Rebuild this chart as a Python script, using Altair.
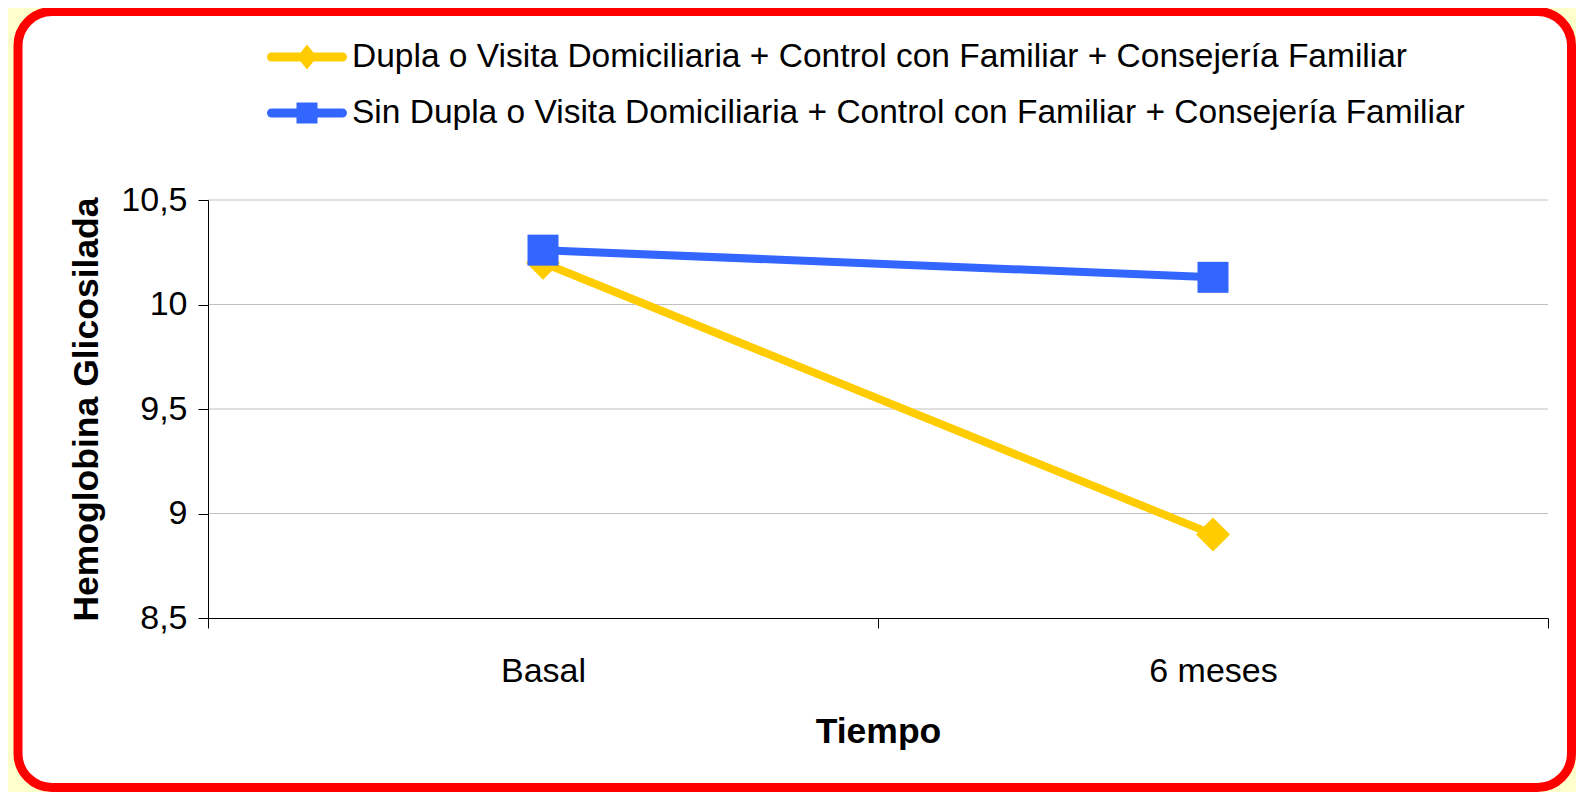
import altair as alt
import pandas as pd

# ---- data ----
tiempos = ["Basal", "6 meses"]
serie_dupla = "Dupla o Visita Domiciliaria + Control con Familiar + Consejería Familiar"
serie_sin = "Sin Dupla o Visita Domiciliaria + Control con Familiar + Consejería Familiar"
series = [serie_dupla, serie_sin]
valores_dupla = [10.20, 8.90]
valores_sin = [10.26, 10.13]
y_ticks = [8.5, 9.0, 9.5, 10.0, 10.5]
grid_values = [9.0, 9.5, 10.0, 10.5]
colores = ["#FFCC00", "#3366FF"]

rows = []
for t, v in zip(tiempos, valores_dupla):
    rows.append({"Tiempo": t, "Serie": serie_dupla, "HbA1c": v})
for t, v in zip(tiempos, valores_sin):
    rows.append({"Tiempo": t, "Serie": serie_sin, "HbA1c": v})
df = pd.DataFrame(rows)

W, H = 1340, 418
FONT = "Liberation Sans"

# legend symbols: line with marker (custom paths, unit r = sqrt(size)/2)
line_part = ("M-0.775,-0.225 L2.775,-0.225 A0.225,0.225 0 0 1 2.775,0.225 "
             "L-0.775,0.225 A0.225,0.225 0 0 1 -0.775,-0.225 Z ")
path_dupla = line_part + "M1,-0.625 L1.5,0 L1,0.625 L0.5,0 Z"
path_sin = line_part + "M0.475,-0.525 L1.525,-0.525 L1.525,0.525 L0.475,0.525 Z"

x_enc = alt.X(
    "Tiempo:N", sort=tiempos,
    scale=alt.Scale(type="band", paddingInner=0, paddingOuter=0),
    axis=alt.Axis(title="Tiempo", tickBand="extent", labelAngle=0,
                  labelPadding=26, titlePadding=26, grid=False, zindex=1),
)
y_enc = alt.Y(
    "HbA1c:Q",
    scale=alt.Scale(domain=[8.5, 10.5], nice=False, zero=False),
    axis=alt.Axis(title="Hemoglobina Glicosilada", values=y_ticks,
                  labelExpr="replace(toString(datum.value), '.', ',')",
                  labelPadding=11, titlePadding=16, grid=False, zindex=1),
)

frame = alt.Chart(pd.DataFrame({"k": [0]})).mark_rect(
    fill="white", stroke="#FF0000", strokeWidth=9, cornerRadius=34
).encode(
    x=alt.value(-190), x2=alt.value(1363.5),
    y=alt.value(-188.5), y2=alt.value(587.5),
)

grid = alt.Chart(pd.DataFrame({"HbA1c": grid_values})).mark_rule(
    color="#C0C0C0", strokeWidth=1
).encode(y=y_enc, x=alt.value(0), x2=alt.value(W))

leg_props = dict(
    title=None, orient="none", legendX=59, legendY=-163,
    symbolSize=1600, symbolStrokeWidth=0, symbolOpacity=1,
    labelFont=FONT, labelFontSize=33.5,
    labelColor="black", labelOffset=45, rowPadding=19, padding=0,
    labelLimit=3000, direction="vertical",
)
legend_layer = alt.Chart(df).transform_filter(
    alt.FieldEqualPredicate(field="Serie", equal="__ninguna__")
).mark_point(filled=True, size=1600).encode(
    x=x_enc, y=y_enc,
    color=alt.Color("Serie:N", scale=alt.Scale(domain=series, range=colores),
                    legend=alt.Legend(**leg_props)),
    shape=alt.Shape("Serie:N", scale=alt.Scale(domain=series, range=[path_dupla, path_sin]),
                    legend=alt.Legend(**leg_props)),
)

def line_layer(serie, color):
    return alt.Chart(df).transform_filter(
        alt.FieldEqualPredicate(field="Serie", equal=serie)
    ).mark_line(color=color, strokeWidth=8).encode(x=x_enc, y=y_enc)

def marker_layer(serie, color, shape, size):
    return alt.Chart(df).transform_filter(
        alt.FieldEqualPredicate(field="Serie", equal=serie)
    ).mark_point(shape=shape, filled=True, size=size, color=color, opacity=1).encode(
        x=x_enc, y=y_enc)

chart = alt.layer(
    frame, grid, legend_layer,
    line_layer(serie_dupla, colores[0]),
    marker_layer(serie_dupla, colores[0], "diamond", 1156),
    line_layer(serie_sin, colores[1]),
    marker_layer(serie_sin, colores[1], "square", 961),
).properties(
    width=W, height=H,
    autosize=alt.AutoSizeParams(type="none"),
    padding={"left": 200, "top": 192, "right": 28, "bottom": 174},
    background="#FFFFCC",
).configure_view(stroke=None).configure_axis(
    domainColor="black", domainWidth=1, tickColor="black", tickSize=10, tickWidth=1,
    labelFont=FONT, labelFontSize=34, labelColor="black",
    titleFont=FONT, titleFontSize=35.5, titleFontWeight="bold", titleColor="black",
)

chart.save("out.html", embed_options={"renderer": "svg", "actions": False})
